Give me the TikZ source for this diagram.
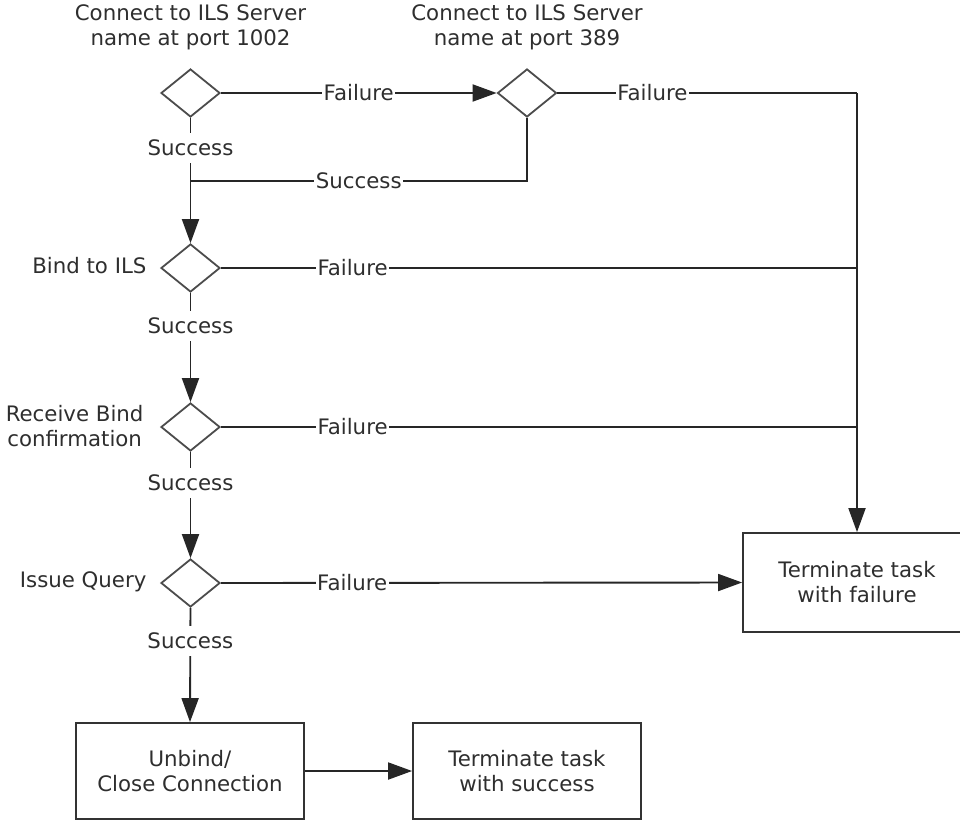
\documentclass[tikz,border=0pt]{standalone}
\usepackage{fontspec}
\setmainfont{DejaVu Sans}
\usetikzlibrary{arrows.meta,shapes.geometric}
\begin{document}
\begin{tikzpicture}[x=1pt,y=-1pt,
  font=\fontsize{21.3}{25}\selectfont,
  every node/.style={text=black!82},
  conn/.style={draw=black!85,line width=1.9pt},
  arr/.style={conn,-{Triangle[length=24pt,width=17pt]}},
  dec/.style={diamond,draw=black!70,line width=1.8pt,minimum width=59pt,minimum height=48pt,inner sep=0pt,fill=white},
  box/.style={rectangle,draw=black!80,line width=1.8pt,minimum width=228pt,minimum height=99pt,align=center,inner sep=0pt},
  lbl/.style={fill=white,inner xsep=1.5pt,inner ysep=7pt},
  side/.style={anchor=east,align=center}]
\useasboundingbox (0,0) rectangle (960,819);
\clip (0,0) rectangle (960,819);

% decisions
\node[dec] (d1) at (190.5,93) {};
\node[dec] (d2) at (527,93) {};
\node[dec] (d3) at (190.5,268) {};
\node[dec] (d4) at (190.5,427) {};
\node[dec] (d5) at (190.5,583) {};

% captions
\node[align=center] (t1) at (190.5,27.5) {Connect to ILS Server\\name at port 1002};
\node[align=center] (t2) at (527,27.5) {Connect to ILS Server\\name at port 389};
\node[side] (s3) at (150,266) {Bind to ILS};
\node[side] (s4) at (147,426) {Receive Bind\\confirmation};
\node[side] (s5) at (150,582) {Issue Query};

% boxes
\node[box] (fb) at (857,582.5) {Terminate task\\with failure};
\node[box,minimum height=96pt] (b1) at (190,771) {Unbind/\\Close Connection};
\node[box,minimum height=96pt] (b2) at (527,771) {Terminate task\\with success};

% junctions
\coordinate (j1) at (190.5,181);
\coordinate (jf) at (857,93);

% connectors
\draw[arr] (d1.east) -- node[lbl]{Failure} (d2.west);
\draw[conn] (d2.east) -- node[lbl,pos=0.317]{Failure} (jf);
\draw[arr] (jf) -- (fb.north);
\draw[conn] (d1.south) -- node[lbl,pos=0.48]{Success} (j1);
\draw[conn] (d2.south) |- node[lbl,pos=0.75]{Success} (j1);
\draw[arr] (j1) -- (d3.north);
\draw[conn] (d3.east) -- node[lbl,pos=0.207]{Failure} (d3.east -| jf);
\draw[conn] (d4.east) -- node[lbl,pos=0.207]{Failure} (d4.east -| jf);
\draw[arr] (d5.east) -- node[lbl,pos=0.252]{Failure} (fb.west);
\draw[arr] (d3.south) -- node[lbl,pos=0.3]{Success} (d4.north);
\draw[arr] (d4.south) -- node[lbl,pos=0.29]{Success} (d5.north);
\draw[arr] (d5.south) -- node[lbl,pos=0.29]{Success} (b1.north);
\draw[arr] (b1.east) -- (b2.west);
\end{tikzpicture}
\end{document}
